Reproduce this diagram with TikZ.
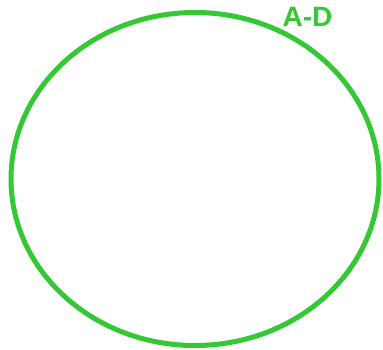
\documentclass[tikz,border=0pt]{standalone}
\usepackage{fontspec}
\setmainfont{Liberation Sans}
\usepackage{tikz}
\usetikzlibrary{shapes.geometric}
\definecolor{setgreen}{RGB}{52,200,52}

\begin{document}
\begin{tikzpicture}[x=1pt,y=-1pt,
  setring/.style={draw=setgreen,line width=5pt},
  setlabel/.style={text=setgreen,font=\fontsize{28}{30}\selectfont\bfseries,inner sep=0pt}]
\useasboundingbox (0,0) rectangle (383,349);
\node[setring,ellipse,minimum width=368pt,minimum height=333pt,inner sep=0pt] (ad) at (195,179) {};
\node[setlabel] (adlabel) at (307.5,17) {A-D};
\end{tikzpicture}
\end{document}
